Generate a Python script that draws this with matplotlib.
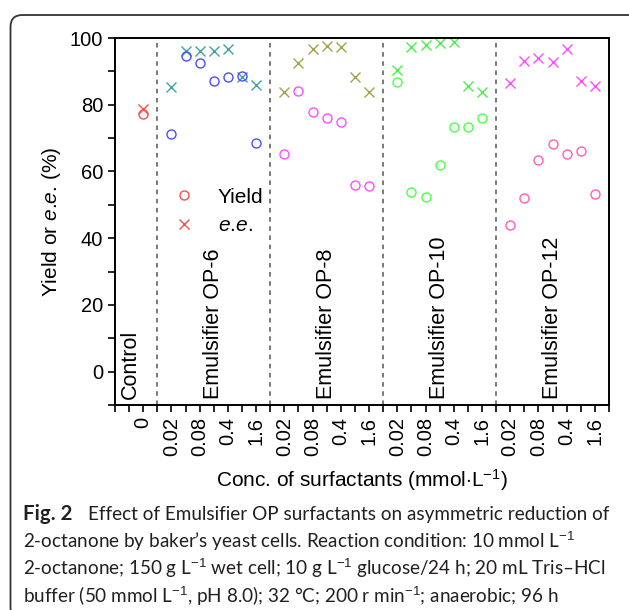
"""Yield and e.e. of 2-octanol vs. Emulsifier OP concentration (Fig. 2 recreation)."""
import matplotlib

matplotlib.use("Agg")
import matplotlib.pyplot as plt
from matplotlib.lines import Line2D
from matplotlib.patches import FancyBboxPatch
from matplotlib.ticker import FixedLocator, NullFormatter

plt.rcParams["font.family"] = ["Liberation Sans", "DejaVu Sans"]
plt.rcParams["mathtext.fontset"] = "custom"
plt.rcParams["mathtext.rm"] = "Liberation Sans"
plt.rcParams["mathtext.it"] = "Liberation Sans:italic"

# ---- data ----
CONTROL_YIELD = 77.1
CONTROL_EE = 78.6

GROUP_NAMES = ["Emulsifier OP-6", "Emulsifier OP-8", "Emulsifier OP-10", "Emulsifier OP-12"]
CONC_LABELS = ["0.02", "0.08", "0.4", "1.6"]  # every other concentration is labelled

YIELD_OP6 = [71.3, 94.6, 92.6, 87.2, 88.2, 88.6, 68.5]
EE_OP6 = [85.3, 96.2, 96.2, 96.2, 96.6, 88.4, 85.8]
YIELD_OP8 = [65.1, 84.2, 77.9, 75.9, 74.7, 55.9, 55.6]
EE_OP8 = [83.8, 92.4, 96.6, 97.6, 97.2, 88.4, 83.9]
YIELD_OP10 = [86.9, 53.7, 52.3, 62.0, 73.2, 73.2, 75.9]
EE_OP10 = [90.4, 97.4, 97.8, 98.6, 98.8, 85.6, 83.9]
YIELD_OP12 = [44.1, 51.9, 63.3, 68.3, 65.1, 66.1, 53.2]
EE_OP12 = [86.4, 93.1, 93.9, 92.7, 96.6, 87.1, 85.6]

YIELDS = [YIELD_OP6, YIELD_OP8, YIELD_OP10, YIELD_OP12]
EES = [EE_OP6, EE_OP8, EE_OP10, EE_OP12]

CONTROL_COLOR = "#ff4d4d"
YIELD_COLORS = ["#4d4dff", "#ff4dff", "#4dff4d", "#ff5fb4"]
EE_COLORS = ["#3fa3a3", "#a3a34d", "#4dee4d", "#ff4dff"]

EE_TEXT = r"$\it{e}$.$\it{e}$."

CAPTION_HEAD = "Effect of Emulsifier OP surfactants on asymmetric reduction of"
CAPTION_LINES = [
    "2-octanone by baker\u2019s yeast cells. Reaction condition: 10 mmol L$^{-1}$",
    "2-octanone; 150 g L$^{-1}$ wet cell; 10 g L$^{-1}$ glucose/24 h; 20 mL Tris\u2013HCl",
    "buffer (50 mmol L$^{-1}$, pH 8.0); 32 \u00b0C; 200 r min$^{-1}$; anaerobic; 96 h",
]

GROUP_START = [2, 10, 18, 26]
N_CONC = 7

fig = plt.figure(figsize=(6.29, 6.10), dpi=100)
ax = fig.add_axes([115 / 629, 1 - 405 / 610, 494 / 629, 367 / 610])

circ = dict(marker="o", linestyle="none", markerfacecolor="none", markersize=6.5, markeredgewidth=1.0)
cross = dict(marker="x", linestyle="none", markersize=7.5, markeredgewidth=1.0)

ax.plot([0], [CONTROL_YIELD], color=CONTROL_COLOR, **circ)
ax.plot([0], [CONTROL_EE], color=CONTROL_COLOR, **cross)

for start, yv, ev, yc, ec in zip(GROUP_START, YIELDS, EES, YIELD_COLORS, EE_COLORS):
    xs = [start + i for i in range(N_CONC)]
    ax.plot(xs, ev, color=ec, **cross)
    ax.plot(xs, yv, color=yc, **circ)

for start in GROUP_START:
    ax.axvline(start - 1, color="#555555", linestyle=(0, (3, 3)), linewidth=1.1)

txt_kw = dict(rotation=90, ha="center", va="bottom", fontsize=15.5)
ax.text(-0.9, -8.2, "Control", **txt_kw)
for start, name in zip(GROUP_START, GROUP_NAMES):
    ax.text(start + 3.0, -8.2, name, **txt_kw)

ax.set_xlim(-2, 33)
ax.set_ylim(-10, 100)

major = [0] + [s + 2 * k for s in GROUP_START for k in range(len(CONC_LABELS))]
labels = ["0"] + CONC_LABELS * len(GROUP_START)
ax.set_xticks(major)
ax.set_xticklabels(labels, rotation=90)
ax.xaxis.set_minor_locator(FixedLocator([v for v in range(-2, 34) if v not in major]))
ax.xaxis.set_minor_formatter(NullFormatter())
ax.set_yticks(range(0, 101, 20))
ax.yaxis.set_minor_locator(FixedLocator(range(-10, 101, 20)))

ax.tick_params(axis="both", which="both", direction="out", width=1.2, labelsize=14.5,
               top=False, right=False)
ax.tick_params(axis="both", which="major", length=5)
ax.tick_params(axis="both", which="minor", length=5)
for sp in ax.spines.values():
    sp.set_linewidth(1.4)

ax.set_ylabel("Yield or " + EE_TEXT + " (%)", fontsize=15, labelpad=5)
ax.set_xlabel(r"Conc. of surfactants (mmol$\cdot$L$^{-1}$)", fontsize=15, labelpad=8)

handles = [
    Line2D([], [], color=CONTROL_COLOR, **circ),
    Line2D([], [], color=CONTROL_COLOR, **cross),
]
ax.legend(handles, ["Yield", EE_TEXT], loc="upper left", bbox_to_anchor=(0.119, 0.592),
          frameon=False, fontsize=15, handlelength=1.0, handletextpad=1.1,
          labelspacing=0.45, borderpad=0, borderaxespad=0)

# caption
cap_kw = dict(family=["Lato", "DejaVu Sans"], color="#231f20", va="baseline")
fig.text(23 / 629, 1 - 520 / 610, "Fig. 2", fontweight="bold", fontsize=14.8, **cap_kw)
fig.text(88 / 629, 1 - 520 / 610, CAPTION_HEAD, fontsize=13.6, **cap_kw)
for i, line in enumerate(CAPTION_LINES):
    fig.text(23 / 629, 1 - (547.7 + 27.7 * i) / 610, line, fontsize=13.6, **cap_kw)

# rounded frame around figure + caption
frame = FancyBboxPatch((10.5, -10), 700, 605, boxstyle="round,pad=0,rounding_size=12",
                       transform=None, fill=False, edgecolor="#333333", linewidth=1.3)
fig.patches.append(frame)

fig.savefig("out.png", dpi=100)
